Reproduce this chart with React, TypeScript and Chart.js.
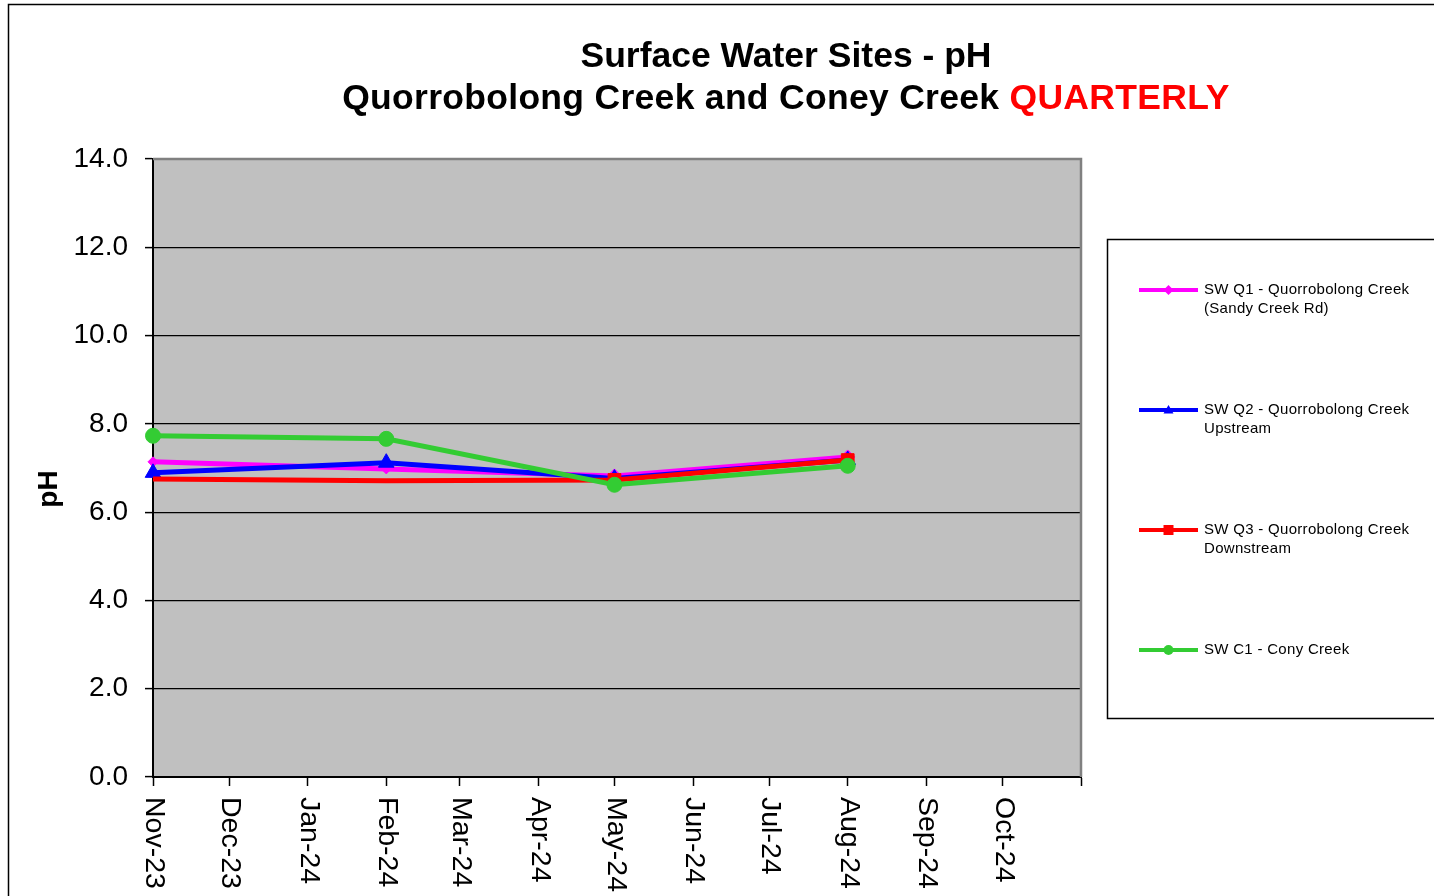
import React, { useEffect, useRef } from 'react';
import { Chart, registerables } from 'chart.js';

Chart.register(...registerables);

const FONT = "'Liberation Sans', Arial, Helvetica, sans-serif";

// ---- data ----
const sampleDates = ['2023-11-01', '2024-02-01', '2024-05-01', '2024-08-01'];
const q1Values = [7.14, 6.98, 6.82, 7.25];
const q2Values = [6.89, 7.12, 6.76, 7.18];
const q3Values = [6.75, 6.71, 6.73, 7.18];
const c1Values = [7.73, 7.66, 6.62, 7.05];

const monthTickDates = [
  '2023-11-01', '2023-12-01', '2024-01-01', '2024-02-01', '2024-03-01', '2024-04-01',
  '2024-05-01', '2024-06-01', '2024-07-01', '2024-08-01', '2024-09-01', '2024-10-01', '2024-11-01',
];
const monthTickLabels = [
  'Nov-23', 'Dec-23', 'Jan-24', 'Feb-24', 'Mar-24', 'Apr-24',
  'May-24', 'Jun-24', 'Jul-24', 'Aug-24', 'Sep-24', 'Oct-24', '',
];

const yMin = 0;
const yMax = 14;
const yStep = 2;

const seriesNames = [
  ['SW Q1 - Quorrobolong Creek', '(Sandy Creek Rd)'],
  ['SW Q2 - Quorrobolong Creek', 'Upstream'],
  ['SW Q3 - Quorrobolong Creek', 'Downstream'],
  ['SW C1 - Cony Creek'],
];
const seriesColors = ['#FF00FF', '#0000FF', '#FF0000', '#33CC33'];
const seriesMarkers = ['rectRot', 'triangle', 'rect', 'circle'];

const titleLine1 = 'Surface Water Sites - pH';
const titleLine2a = 'Quorrobolong Creek and Coney Creek ';
const titleLine2b = 'QUARTERLY';
const yAxisTitle = 'pH';

const AXIS_START = monthTickDates[0];
const AXIS_END = monthTickDates[monthTickDates.length - 1];
const dayOffset = (d: string) => (Date.parse(d) - Date.parse(AXIS_START)) / 86400000;

const toPoints = (vals: number[]) => vals.map((v, i) => ({ x: dayOffset(sampleDates[i]), y: v }));

const drawMarker = (ctx: CanvasRenderingContext2D, style: string, x: number, y: number, r: number, color: string) => {
  ctx.save();
  ctx.fillStyle = color;
  ctx.beginPath();
  if (style === 'circle') {
    ctx.arc(x, y, r, 0, Math.PI * 2);
  } else if (style === 'rect') {
    ctx.rect(x - r, y - r, 2 * r, 2 * r);
  } else if (style === 'rectRot') {
    ctx.moveTo(x, y - r);
    ctx.lineTo(x + r, y);
    ctx.lineTo(x, y + r);
    ctx.lineTo(x - r, y);
    ctx.closePath();
  } else if (style === 'triangle') {
    ctx.moveTo(x, y - r);
    ctx.lineTo(x + r, y + r * 0.7);
    ctx.lineTo(x - r, y + r * 0.7);
    ctx.closePath();
  }
  ctx.fill();
  ctx.restore();
};

const decorPlugin = {
  id: 'decor',
  beforeDraw(chart: any) {
    const { ctx, chartArea } = chart;
    ctx.save();
    ctx.fillStyle = '#FFFFFF';
    ctx.fillRect(0, 0, chart.width, chart.height);
    // outer border
    ctx.strokeStyle = '#000000';
    ctx.lineWidth = 1.5;
    ctx.strokeRect(8.5, 4.5, chart.width + 20, chart.height + 20);
    // plot background
    ctx.fillStyle = '#C0C0C0';
    ctx.fillRect(chartArea.left, chartArea.top, chartArea.right - chartArea.left, chartArea.bottom - chartArea.top);
    // title
    ctx.fillStyle = '#000000';
    ctx.font = `bold 35.5px ${FONT}`;
    ctx.textBaseline = 'middle';
    ctx.textAlign = 'center';
    const cx = 786;
    ctx.fillText(titleLine1, cx, 57);
    (ctx as any).letterSpacing = '0.3px';
    const wa = ctx.measureText(titleLine2a).width;
    const wb = ctx.measureText(titleLine2b).width;
    const start = cx - (wa + wb) / 2;
    ctx.textAlign = 'left';
    ctx.fillText(titleLine2a, start, 99);
    ctx.fillStyle = '#FF0000';
    ctx.fillText(titleLine2b, start + wa, 99);
    (ctx as any).letterSpacing = '0px';
    // y-axis title
    ctx.fillStyle = '#000000';
    ctx.font = `bold 28px ${FONT}`;
    ctx.translate(49, 489);
    ctx.rotate(-Math.PI / 2);
    ctx.textAlign = 'center';
    ctx.fillText(yAxisTitle, 0, 0);
    ctx.restore();
  },
  beforeDatasetsDraw(chart: any) {
    const { ctx, chartArea } = chart;
    ctx.save();
    ctx.strokeStyle = '#808080';
    ctx.lineWidth = 2.5;
    ctx.beginPath();
    ctx.moveTo(chartArea.left, chartArea.top);
    ctx.lineTo(chartArea.right, chartArea.top);
    ctx.lineTo(chartArea.right, chartArea.bottom);
    ctx.stroke();
    ctx.restore();
  },
  afterDraw(chart: any) {
    const { ctx } = chart;
    const xs = chart.scales.x;
    ctx.save();
    // x tick labels, rotated to read top-to-bottom
    ctx.fillStyle = '#000000';
    ctx.font = `28.5px ${FONT}`;
    ctx.textBaseline = 'middle';
    ctx.textAlign = 'left';
    monthTickDates.forEach((d, i) => {
      const label = monthTickLabels[i];
      if (!label) return;
      const px = xs.getPixelForValue(dayOffset(d));
      ctx.save();
      ctx.translate(px + 1, 797);
      ctx.rotate(Math.PI / 2);
      ctx.fillText(label, 0, 0);
      ctx.restore();
    });
    // legend box
    ctx.fillStyle = '#FFFFFF';
    ctx.fillRect(1107, 239, chart.width, 479);
    ctx.strokeStyle = '#000000';
    ctx.lineWidth = 1.5;
    ctx.strokeRect(1107.5, 239.5, chart.width, 479);
    ctx.font = `15px ${FONT}`;
    (ctx as any).letterSpacing = '0.3px';
    seriesNames.forEach((lines, i) => {
      const y = 290 + 120 * i;
      ctx.strokeStyle = seriesColors[i];
      ctx.lineWidth = 4;
      ctx.beginPath();
      ctx.moveTo(1139, y);
      ctx.lineTo(1198, y);
      ctx.stroke();
      drawMarker(ctx, seriesMarkers[i], 1168.5, y, 5, seriesColors[i]);
      ctx.fillStyle = '#000000';
      ctx.textAlign = 'left';
      ctx.textBaseline = 'middle';
      lines.forEach((t, j) => ctx.fillText(t, 1204, y + 19 * j));
    });
    ctx.restore();
  },
};

const datasetsSpec = [
  { values: q1Values, radius: [5, 5, 7, 7], order: 4 },
  { values: q2Values, radius: [9, 9, 9, 9], order: 3 },
  { values: q3Values, radius: [0, 0, 9, 9], order: 2 },
  { values: c1Values, radius: [7.5, 7.5, 7.5, 7.5], order: 1 },
];

export default function App() {
  const canvasRef = useRef<HTMLCanvasElement | null>(null);

  useEffect(() => {
    document.body.style.margin = '0';
    const canvas = canvasRef.current;
    if (!canvas) return;
    const chart = new Chart(canvas, {
      type: 'line',
      data: {
        datasets: datasetsSpec.map((s, i) => ({
          label: seriesNames[i].join(' '),
          data: toPoints(s.values),
          borderColor: seriesColors[i],
          backgroundColor: seriesColors[i],
          borderWidth: 5,
          pointStyle: seriesMarkers[i] as any,
          pointRadius: s.radius,
          pointBorderWidth: 1,
          pointBorderColor: seriesColors[i],
          pointBackgroundColor: seriesColors[i],
          tension: 0,
          order: s.order,
          clip: false as any,
        })),
      },
      options: {
        responsive: false,
        animation: false,
        devicePixelRatio: 1,
        layout: { padding: { left: 0, top: 159, right: 353, bottom: 0 } },
        plugins: {
          legend: { display: false },
          title: { display: false },
          tooltip: { enabled: false },
        },
        scales: {
          x: {
            type: 'linear',
            min: 0,
            max: dayOffset(AXIS_END),
            afterBuildTicks: (scale: any) => {
              scale.ticks = monthTickDates.map((d) => ({ value: dayOffset(d) }));
            },
            afterFit: (scale: any) => {
              scale.height = 119;
            },
            ticks: { display: false },
            grid: {
              drawOnChartArea: false,
              drawTicks: true,
              tickLength: 9,
              tickColor: '#000000',
              tickWidth: 1.5,
              color: '#000000',
            },
            border: { display: true, color: '#000000', width: 2 },
          },
          y: {
            type: 'linear',
            min: yMin,
            max: yMax,
            afterFit: (scale: any) => {
              scale.width = 153;
            },
            ticks: {
              stepSize: yStep,
              color: '#000000',
              font: { family: FONT, size: 28 },
              padding: 17,
              callback: (v: any) => Number(v).toFixed(1),
            },
            grid: {
              drawOnChartArea: true,
              drawTicks: true,
              tickLength: 8,
              tickColor: '#000000',
              tickWidth: 1.5,
              color: (c: any) => (c.tick && c.tick.value === yMax ? 'rgba(0,0,0,0)' : '#000000'),
              lineWidth: 1.2,
            },
            border: { display: true, color: '#000000', width: 2 },
          },
        },
      },
      plugins: [decorPlugin],
    });
    return () => chart.destroy();
  }, []);

  return (
    <div style={{ width: 1434, height: 896, position: 'relative' }}>
      <canvas ref={canvasRef} width={1434} height={896} style={{ width: 1434, height: 896, display: 'block' }} />
    </div>
  );
}
